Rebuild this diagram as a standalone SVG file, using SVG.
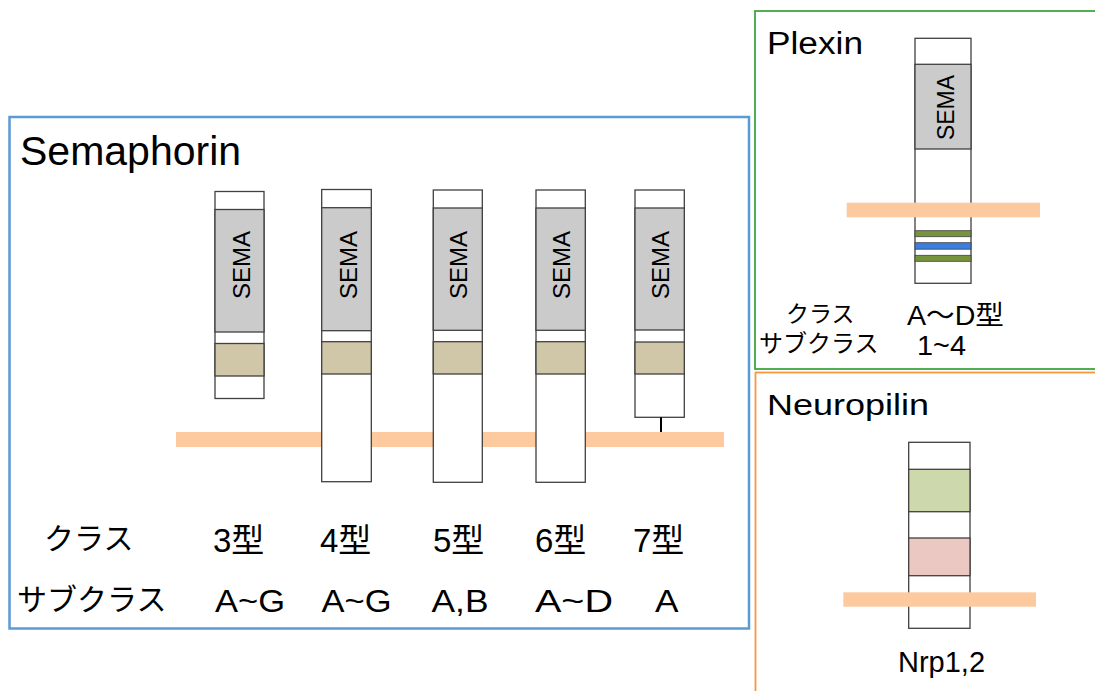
<svg xmlns="http://www.w3.org/2000/svg" width="1095" height="691" viewBox="0 0 1095 691">
<style>
.lat{font-family:"Liberation Sans",Arial,sans-serif;fill:#000}
.jp{font-family:"Liberation Sans","Noto Sans CJK JP",sans-serif;fill:#000}
.pr{fill:#fff;stroke:#404040;stroke-width:1.3}
.sema{fill:#cbcbcb;stroke:#404040;stroke-width:1.3}
.tan{fill:#d0c7a8;stroke:#404040;stroke-width:1.3}
.mem{fill:#fdca9f}
.sl{font-family:"Liberation Sans",Arial,sans-serif;font-size:24px;text-anchor:middle;fill:#000}
</style>
<rect width="1095" height="691" fill="#fff"/>

<g id="semaphorin-panel">
<rect x="9.5" y="117" width="739.5" height="511.5" fill="none" stroke="#5b9bd5" stroke-width="2.5"/>
<text class="lat" x="20" y="165" font-size="41">Semaphorin</text>
<rect class="mem" x="176" y="432" width="548" height="15"/>
</g>

<g id="sema3">
<rect class="pr" x="215" y="191.5" width="49" height="207"/>
<rect class="sema" x="215" y="209.5" width="49" height="122.5"/>
<rect class="tan" x="215" y="343.5" width="49" height="32.5"/>
<text class="sl" transform="translate(249.5,265) rotate(-90)">SEMA</text>
</g>
<g id="sema4">
<rect class="pr" x="321.7" y="189.5" width="49.6" height="292.2"/>
<rect class="sema" x="321.7" y="207.7" width="49.6" height="123"/>
<rect class="tan" x="321.7" y="341.7" width="49.6" height="32.3"/>
<text class="sl" transform="translate(356.5,265) rotate(-90)">SEMA</text>
</g>
<g id="sema5">
<rect class="pr" x="433.3" y="190" width="49" height="292.3"/>
<rect class="sema" x="433.3" y="208" width="49" height="122.3"/>
<rect class="tan" x="433.3" y="341.7" width="49" height="32.3"/>
<text class="sl" transform="translate(467,265) rotate(-90)">SEMA</text>
</g>
<g id="sema6">
<rect class="pr" x="536" y="190" width="49.3" height="292.3"/>
<rect class="sema" x="536" y="208" width="49.3" height="122.3"/>
<rect class="tan" x="536" y="341.7" width="49.3" height="32.3"/>
<text class="sl" transform="translate(570,265) rotate(-90)">SEMA</text>
</g>
<g id="sema7">
<rect class="pr" x="635" y="190" width="49.3" height="227.3"/>
<rect class="sema" x="635" y="208" width="49.3" height="122"/>
<rect class="tan" x="635" y="342" width="49.3" height="32"/>
<text class="sl" transform="translate(669,265) rotate(-90)">SEMA</text>
</g>

<g id="connectors">
<line x1="661" y1="417.3" x2="661" y2="432" stroke="#000" stroke-width="2"/>
</g>

<g id="sema-labels">
<text class="jp" x="44" y="549" font-size="30">クラス</text>
<text class="jp" x="17" y="610" font-size="30">サブクラス</text>
<text class="jp" x="213" y="552" font-size="33">3型</text>
<text class="jp" x="320" y="552" font-size="33">4型</text>
<text class="jp" x="433" y="552" font-size="33">5型</text>
<text class="jp" x="535" y="552" font-size="33">6型</text>
<text class="jp" x="633" y="552" font-size="33">7型</text>
<text class="lat" x="215" y="611.5" font-size="31" textLength="70" lengthAdjust="spacingAndGlyphs">A~G</text>
<text class="lat" x="321.5" y="611.5" font-size="31" textLength="70" lengthAdjust="spacingAndGlyphs">A~G</text>
<text class="lat" x="431.5" y="611.5" font-size="31" textLength="57" lengthAdjust="spacingAndGlyphs">A,B</text>
<text class="lat" x="535" y="611.5" font-size="31" textLength="78" lengthAdjust="spacingAndGlyphs">A~D</text>
<text class="lat" x="655" y="611.5" font-size="31" textLength="23.5" lengthAdjust="spacingAndGlyphs">A</text>
</g>

<g id="plexin">
<rect x="755" y="11" width="345" height="358" fill="none" stroke="#3fa63f" stroke-width="1.8"/>
<text class="lat" x="767" y="53.5" font-size="31" textLength="96" lengthAdjust="spacingAndGlyphs">Plexin</text>
<rect class="pr" x="915" y="38.3" width="56" height="245"/>
<rect class="sema" x="915" y="64.3" width="56" height="84.7"/>
<text class="lat" font-size="23" text-anchor="middle" transform="translate(954,107.5) rotate(-90)">SEMA</text>
<rect x="915" y="230.7" width="56" height="6" fill="#77943d" stroke="#404040" stroke-width="0.8"/>
<rect x="915" y="242.7" width="56" height="6.5" fill="#3b7ee0" stroke="#404040" stroke-width="0.8"/>
<rect x="915" y="255.3" width="56" height="6" fill="#77943d" stroke="#404040" stroke-width="0.8"/>
<rect class="mem" x="846.7" y="202.7" width="193.3" height="14.6"/>
<text class="jp" x="786" y="322" font-size="23">クラス</text>
<text class="jp" x="759" y="352" font-size="24">サブクラス</text>
<text class="jp" x="907" y="324.5" font-size="27" textLength="97" lengthAdjust="spacingAndGlyphs">A～D型</text>
<text class="lat" x="917" y="354.5" font-size="27" textLength="49" lengthAdjust="spacingAndGlyphs">1~4</text>
</g>

<g id="neuropilin">
<rect x="755.5" y="372.5" width="345" height="330" fill="none" stroke="#f7963c" stroke-width="1.8"/>
<text class="lat" x="767" y="415" font-size="30" textLength="162" lengthAdjust="spacingAndGlyphs">Neuropilin</text>
<rect class="pr" x="908.7" y="442.3" width="61.3" height="186"/>
<rect x="908.7" y="469.3" width="61.3" height="42.4" fill="#cdd9ac" stroke="#404040" stroke-width="1.3"/>
<rect x="908.7" y="538" width="61.3" height="37.7" fill="#ebc8c1" stroke="#404040" stroke-width="1.3"/>
<rect class="mem" x="843.3" y="592.3" width="192.7" height="14.4"/>
<text class="lat" x="898" y="671.5" font-size="29">Nrp1,2</text>
</g>
</svg>
